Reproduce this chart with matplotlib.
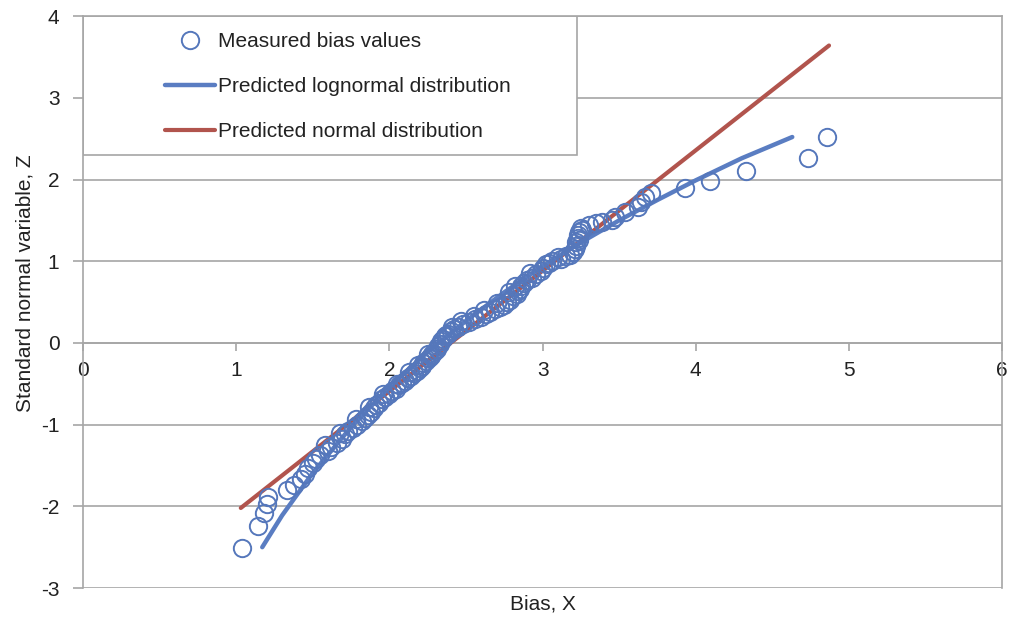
import numpy as np
import matplotlib.pyplot as plt
from matplotlib.patches import Rectangle

plt.rcParams['font.family'] = ['Liberation Sans Narrow', 'Liberation Sans', 'DejaVu Sans']
plt.rcParams['axes.unicode_minus'] = False

# measured bias values (x) and their standard normal variable (z)
bias = [1.04, 1.14, 1.18, 1.20, 1.21, 1.33, 1.38, 1.42, 1.45, 1.47,
        1.50, 1.52, 1.55, 1.60, 1.62, 1.66, 1.69, 1.71, 1.73, 1.76,
        1.79, 1.82, 1.84, 1.86, 1.88, 1.90, 1.91, 1.93, 1.95, 1.97,
        2.00, 2.02, 2.04, 2.06, 2.08, 2.10, 2.12, 2.14, 2.16, 2.18,
        2.20, 2.21, 2.22, 2.24, 2.26, 2.27, 2.28, 2.30, 2.31, 2.32,
        2.33, 2.34, 2.35, 2.36, 2.38, 2.40, 2.42, 2.45, 2.48, 2.52,
        2.56, 2.60, 2.63, 2.66, 2.69, 2.72, 2.75, 2.77, 2.79, 2.81,
        2.83, 2.84, 2.85, 2.86, 2.88, 2.90, 2.93, 2.96, 2.99, 3.00,
        3.02, 3.06, 3.12, 3.18, 3.20, 3.21, 3.22, 3.22, 3.23, 3.23,
        3.24, 3.25, 3.30, 3.39, 3.47, 3.54, 3.62, 3.64, 3.67, 3.71,
        3.93, 4.09, 4.33, 4.73, 4.86,
        1.58, 1.68, 1.78, 1.87, 1.96, 2.05, 2.13, 2.19, 2.25, 2.37,
        2.41, 2.47, 2.55, 2.62, 2.70, 2.78, 2.82, 2.92, 3.04, 3.10,
        3.15, 3.24, 3.26, 3.35, 3.45]
z_meas = [-2.51, -2.24, -2.08, -1.97, -1.88, -1.80, -1.74, -1.67, -1.60, -1.53,
          -1.47, -1.42, -1.37, -1.32, -1.27, -1.22, -1.17, -1.12, -1.08, -1.04,
          -1.00, -0.96, -0.92, -0.88, -0.84, -0.80, -0.76, -0.73, -0.69, -0.66,
          -0.62, -0.59, -0.56, -0.52, -0.49, -0.46, -0.43, -0.40, -0.37, -0.34,
          -0.31, -0.28, -0.25, -0.22, -0.19, -0.16, -0.13, -0.10, -0.07, -0.04,
          -0.01, 0.02, 0.05, 0.08, 0.11, 0.14, 0.17, 0.20, 0.23, 0.26,
          0.29, 0.32, 0.35, 0.38, 0.41, 0.44, 0.47, 0.50, 0.53, 0.57,
          0.60, 0.63, 0.66, 0.70, 0.73, 0.77, 0.80, 0.84, 0.88, 0.92,
          0.96, 1.00, 1.03, 1.07, 1.11, 1.15, 1.19, 1.23, 1.28, 1.32,
          1.36, 1.41, 1.44, 1.48, 1.54, 1.60, 1.66, 1.72, 1.78, 1.83,
          1.89, 1.98, 2.10, 2.26, 2.52,
          -1.25, -1.10, -0.93, -0.78, -0.63, -0.50, -0.36, -0.27, -0.14, 0.10,
          0.20, 0.27, 0.33, 0.40, 0.49, 0.62, 0.70, 0.86, 0.98, 1.05,
          1.06, 1.26, 1.38, 1.47, 1.51]

# predicted lognormal curve
logn_x = [1.17, 1.30, 1.50, 1.75, 2.00, 2.25, 2.50, 2.75, 3.00, 3.25,
          3.50, 3.75, 4.00, 4.30, 4.63]
logn_z = [-2.50, -2.11, -1.59, -1.03, -0.54, -0.11, 0.27, 0.62, 0.94, 1.23,
          1.50, 1.75, 1.99, 2.26, 2.52]

# predicted normal line
norm_x = [1.03, 4.87]
norm_z = [-2.02, 3.64]

blue = '#5577bb'
blue_line = '#5a7dc2'
red = '#b1544d'
grey = '#a6a6a6'
txt = '#222222'

fig = plt.figure(figsize=(10.1, 6.19), dpi=100)
ax = fig.add_axes([0.0822, 0.050, 0.910, 0.924])

ax.plot(norm_x, norm_z, color=red, lw=3, solid_capstyle='round', zorder=3,
        label='Predicted normal distribution')
ax.plot(logn_x, logn_z, color=blue_line, lw=3.2, solid_capstyle='round', zorder=3,
        label='Predicted lognormal distribution')
ax.plot(bias, z_meas, 'o', ms=12.5, mfc='none', mec=blue, mew=1.4, zorder=4,
        label='Measured bias values')

ax.set_xlim(0, 6)
ax.set_ylim(-3, 4)
ax.set_xticks(range(0, 7))
ax.set_yticks(range(-3, 5))

ax.grid(axis='y', color=grey, lw=1.2)
ax.set_axisbelow(True)

for s in ['top', 'right', 'left']:
    ax.spines[s].set_color(grey)
    ax.spines[s].set_linewidth(1.2)
ax.spines['bottom'].set_position(('data', 0))
ax.spines['bottom'].set_color(grey)
ax.spines['bottom'].set_linewidth(1.2)

ax.tick_params(axis='x', direction='out', length=6, width=1.2, color=grey,
               labelsize=15, labelcolor=txt, pad=7)
ax.tick_params(axis='y', direction='out', length=7, width=1.2, color=grey,
               labelsize=15, labelcolor=txt, pad=10)

ax.set_xlabel('Bias, X', fontsize=15, color=txt)
ax.xaxis.set_label_coords(0.5, -0.012)
ax.set_ylabel('Standard normal variable, Z', fontsize=15, color=txt)
ax.yaxis.set_label_coords(-0.053, 0.533)

# legend box
box = Rectangle((0, 0.757), 0.537, 0.243, transform=ax.transAxes,
                facecolor='white', edgecolor=grey, lw=1.2, zorder=2)
ax.add_patch(box)

h, l = ax.get_legend_handles_labels()
order = [2, 1, 0]
leg = ax.legend([h[i] for i in order], [l[i] for i in order],
                loc='upper left', bbox_to_anchor=(0.089, 0.972),
                frameon=False, fontsize=15, handlelength=2.4,
                handletextpad=0.15, labelspacing=1.25, borderpad=0,
                borderaxespad=0)
for t in leg.get_texts():
    t.set_color(txt)
leg.set_zorder(5)

fig.savefig('out.png', dpi=100)
